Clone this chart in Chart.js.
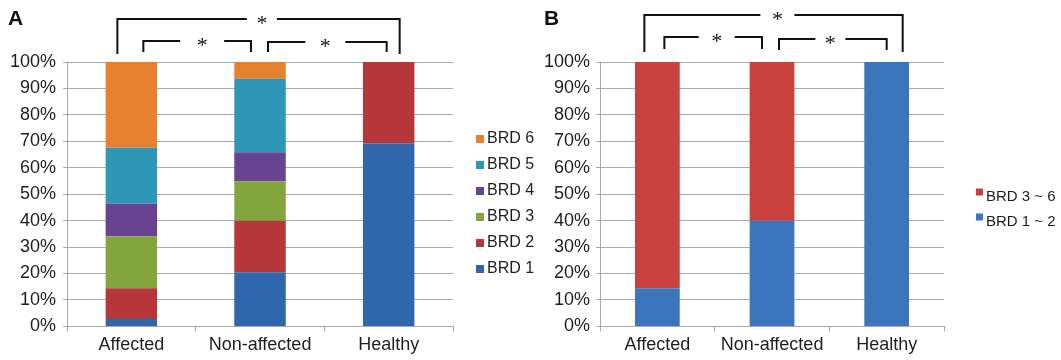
<!DOCTYPE html>
<html>
<head>
<meta charset="utf-8">
<script src="https://cdn.jsdelivr.net/npm/chart.js@4.4.1/dist/chart.umd.min.js"></script>
<style>
  html, body { margin: 0; padding: 0; background: #fff; }
  #wrap { position: relative; width: 1061px; height: 360px; overflow: hidden; }
  #panelA { position: absolute; left: 0; top: 0; }
  #panelB { position: absolute; left: 530px; top: 0; }
</style>
</head>
<body>
<div id="wrap">
  <canvas id="panelA" width="548" height="360"></canvas>
  <canvas id="panelB" width="531" height="360"></canvas>
</div>
<script>
// groups on the x axis
const categories = ['Affected', 'Non-affected', 'Healthy'];

// panel A: share of each BRD score (%)
const brd1 = [2.8, 20.5, 69.2];
const brd2 = [11.6, 19.5, 30.8];
const brd3 = [19.7, 14.9, 0];
const brd4 = [12.3, 11.0, 0];
const brd5 = [21.2, 27.8, 0];
const brd6 = [32.4, 6.3, 0];

// panel B: scores pooled (%)
const brd1to2 = [14.4, 40.0, 100];
const brd3to6 = [85.6, 60.0, 0];

const FONT = '"Liberation Sans", Arial, Helvetica, sans-serif';
const GRID = '#a9a9a9';
const TEXT = '#1e1e1e';

// panel letter, significance brackets and legend
const annotate = {
  id: 'annotate',
  afterDraw(chart, args, opts) {
    const ctx = chart.ctx;
    const xs = chart.scales.x;
    const area = chart.chartArea;
    ctx.save();

    ctx.fillStyle = '#111';
    ctx.textBaseline = 'alphabetic';
    ctx.textAlign = 'left';
    ctx.font = 'bold 21px ' + FONT;
    ctx.fillText(opts.panel, opts.panelX, 25);

    ctx.strokeStyle = '#111';
    ctx.lineWidth = 2;
    ctx.lineCap = 'butt';
    ctx.lineJoin = 'miter';
    ctx.font = '22px "Liberation Serif", "Times New Roman", serif';
    ctx.textAlign = 'center';
    opts.brackets.forEach(b => {
      const x1 = xs.getPixelForValue(b.from) + b.dFrom;
      const x2 = xs.getPixelForValue(b.to) + b.dTo;
      const mid = x1 + (x2 - x1) * b.t;
      ctx.beginPath();
      ctx.moveTo(x1, b.bottom);
      ctx.lineTo(x1, b.top);
      ctx.lineTo(mid - b.gap, b.top);
      ctx.moveTo(mid + b.gap, b.top);
      ctx.lineTo(x2, b.top);
      ctx.lineTo(x2, b.bottom);
      ctx.stroke();
      ctx.fillText('*', mid, b.top + 11);
    });

    // legend, last series on top
    const lg = opts.legend;
    ctx.font = lg.size + 'px ' + FONT;
    ctx.textAlign = 'left';
    ctx.textBaseline = 'middle';
    const items = chart.data.datasets.slice().reverse();
    items.forEach((ds, i) => {
      const cy = lg.y + i * lg.step;
      ctx.fillStyle = ds.backgroundColor;
      ctx.fillRect(area.right + lg.boxX, cy - lg.box / 2 + lg.boxDy, lg.box, lg.box);
      ctx.fillStyle = TEXT;
      ctx.fillText(ds.label, area.right + lg.textX, cy);
    });
    ctx.restore();
  }
};

function makeOptions(pad, tickPad, barPct, annot) {
  return {
    responsive: false,
    animation: false,
    layout: { padding: pad },
    plugins: {
      legend: { display: false },
      tooltip: { enabled: false },
      annotate: annot
    },
    datasets: { bar: { barPercentage: barPct, categoryPercentage: 1.0 } },
    scales: {
      x: {
        stacked: true,
        grid: { drawOnChartArea: false, color: GRID, tickLength: 5 },
        border: { color: GRID, width: 1 },
        ticks: { color: TEXT, font: { family: FONT, size: 18 }, padding: 3 }
      },
      y: {
        stacked: true,
        min: 0,
        max: 100,
        grid: { color: GRID, tickLength: 4 },
        border: { color: GRID, width: 1 },
        ticks: {
          stepSize: 10,
          color: TEXT,
          font: { family: FONT, size: 18 },
          padding: tickPad,
          callback: v => v + '%'
        }
      }
    }
  };
}

new Chart(document.getElementById('panelA'), {
  type: 'bar',
  data: {
    labels: categories,
    datasets: [
      { label: 'BRD 1', data: brd1, backgroundColor: '#2f67ad' },
      { label: 'BRD 2', data: brd2, backgroundColor: '#b5373a' },
      { label: 'BRD 3', data: brd3, backgroundColor: '#83a53d' },
      { label: 'BRD 4', data: brd4, backgroundColor: '#674391' },
      { label: 'BRD 5', data: brd5, backgroundColor: '#2e97b7' },
      { label: 'BRD 6', data: brd6, backgroundColor: '#e6812f' }
    ]
  },
  options: makeOptions({ top: 62, left: 3, right: 95, bottom: 1 }, 7, 0.4, {
    panel: 'A', panelX: 8,
    brackets: [
      { from: 0, to: 2, dFrom: -14, dTo: 11, top: 19, bottom: 54, t: 0.512, gap: 15 },
      { from: 0, to: 1, dFrom: 12, dTo: -9, top: 41, bottom: 52, t: 0.546, gap: 22 },
      { from: 1, to: 2, dFrom: 8, dTo: -2, top: 42, bottom: 52, t: 0.483, gap: 20 }
    ],
    legend: { size: 16, y: 139, step: 26, box: 8, boxX: 23, boxDy: 0, textX: 34 }
  }),
  plugins: [annotate]
});

new Chart(document.getElementById('panelB'), {
  type: 'bar',
  data: {
    labels: categories,
    datasets: [
      { label: 'BRD 1 ~ 2', data: brd1to2, backgroundColor: '#3b76bd' },
      { label: 'BRD 3 ~ 6', data: brd3to6, backgroundColor: '#c9413d' }
    ]
  },
  options: makeOptions({ top: 62, left: 8, right: 117, bottom: 1 }, 6, 0.39, {
    panel: 'B', panelX: 14,
    brackets: [
      { from: 0, to: 2, dFrom: -13, dTo: 16, top: 15, bottom: 52, t: 0.515, gap: 17 },
      { from: 0, to: 1, dFrom: 7, dTo: -10, top: 37, bottom: 49, t: 0.536, gap: 18 },
      { from: 1, to: 2, dFrom: 7, dTo: 0, top: 39, bottom: 50, t: 0.477, gap: 15 }
    ],
    legend: { size: 15, y: 197, step: 25, box: 7, boxX: 32, boxDy: -5, textX: 42 }
  }),
  plugins: [annotate]
});
</script>
</body>
</html>
